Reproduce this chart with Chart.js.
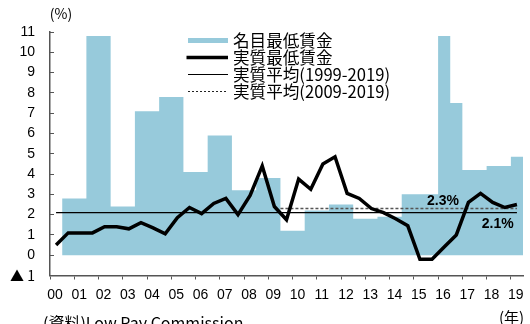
<!DOCTYPE html>
<html lang="ja">
<head>
<meta charset="utf-8">
<script src="https://cdn.jsdelivr.net/npm/chart.js@4.4.1/dist/chart.umd.min.js"></script>
<style>
  html, body { margin: 0; padding: 0; background: #fff; }
  #wrap { width: 530px; height: 324px; position: relative; }
</style>
</head>
<body>
<div id="wrap"><canvas id="c" width="530" height="324"></canvas></div>
<script>
// 横軸の年ラベル
const yearLabels = ['00','01','02','03','04','05','06','07','08','09',
                    '10','11','12','13','14','15','16','17','18','19'];

// 系列名
const seriesNames = ['名目最低賃金', '実質最低賃金', '実質平均(1999-2019)', '実質平均(2009-2019)'];

// 名目最低賃金：改定時点と前年比(%)
const nominalStart  = [2000.5, 2001.5, 2002.5, 2003.5, 2004.5, 2005.5, 2006.5, 2007.5, 2008.5, 2009.5,
                       2010.5, 2011.5, 2012.5, 2013.5, 2014.5, 2016.0, 2016.5, 2017.0, 2018.0, 2019.0];
const nominalGrowth = [2.8, 10.8, 2.4, 7.1, 7.8, 4.1, 5.9, 3.2, 3.8, 1.2,
                       2.2, 2.5, 1.8, 1.9, 3.0, 10.8, 7.5, 4.2, 4.4, 4.85];
const nominalEnd = 2019.5;

// 実質最低賃金：半期ごとの前年比(%)
const realTime = [2000.25, 2000.75, 2001.25, 2001.75, 2002.25, 2002.75, 2003.25, 2003.75, 2004.25, 2004.75,
                  2005.25, 2005.75, 2006.25, 2006.75, 2007.25, 2007.75, 2008.25, 2008.75, 2009.25, 2009.75,
                  2010.25, 2010.75, 2011.25, 2011.75, 2012.25, 2012.75, 2013.25, 2013.75, 2014.25, 2014.75,
                  2015.25, 2015.75, 2016.25, 2016.75, 2017.25, 2017.75, 2018.25, 2018.75, 2019.25];
const realGrowth = [0.5, 1.1, 1.1, 1.1, 1.4, 1.4, 1.3, 1.6, 1.35, 1.05,
                    1.85, 2.35, 2.05, 2.55, 2.8, 2.0, 2.95, 4.4, 2.4, 1.75,
                    3.75, 3.25, 4.5, 4.85, 3.05, 2.8, 2.3, 2.1, 1.8, 1.45,
                    -0.2, -0.2, 0.4, 1.0, 2.6, 3.05, 2.6, 2.35, 2.5];

// 実質平均(%)と対象期間
const avgLongValue = 2.1;
const avgLongSpan = [2000.25, 2019.25];
const avgRecentValue = 2.3;
const avgRecentSpan = [2009.5, 2019.25];

const NUM_FONT = "'Liberation Sans', Arial, sans-serif";
const JP_FONT = "'Noto Sans CJK JP', 'Noto Sans CJK SC', sans-serif";
const BAR_BLUE = '#97cadb';
const AXIS_GREY = '#555';

// 名目の段差データ（各改定から次の改定まで同じ値）
const nominalPoints = nominalStart.map((x, i) => ({ x, y: nominalGrowth[i] }));
nominalPoints.push({ x: nominalEnd, y: nominalGrowth[nominalGrowth.length - 1] });

const realPoints = realTime.map((x, i) => ({ x, y: realGrowth[i] }));

// 凡例・注記・出所などの描画
const decorPlugin = {
  id: 'decor',
  afterDatasetsDraw(chart) {
    const { ctx, chartArea, scales } = chart;
    const xs = scales.x, ys = scales.y;
    ctx.save();

    // 凡例
    const ds = chart.data.datasets;
    const sx0 = chartArea.left + 138, sx1 = chartArea.left + 178;
    const tx = chartArea.left + 183;
    [0, 1, 2, 3].forEach((di, row) => {
      const d = ds[di];
      const cy = chartArea.top + 8.5 + row * 17;
      if (di === 0) {
        ctx.fillStyle = d.backgroundColor;
        ctx.fillRect(sx0, cy - 2.5, sx1 - sx0, 5);
      } else {
        ctx.beginPath();
        ctx.strokeStyle = di === 3 ? '#222' : d.borderColor;
        ctx.lineWidth = di === 1 ? 3.5 : 1;
        ctx.setLineDash(di === 3 ? [2, 2] : []);
        ctx.moveTo(di === 1 ? sx0 - 1.5 : sx0, cy);
        ctx.lineTo(sx1, cy);
        ctx.stroke();
        ctx.setLineDash([]);
      }
      ctx.fillStyle = '#000';
      ctx.font = "16.6px " + JP_FONT;
      ctx.textAlign = 'left';
      ctx.textBaseline = 'middle';
      ctx.fillText(d.label, tx, cy);
    });

    // 平均値の注記
    ctx.font = "bold 14px " + NUM_FONT;
    ctx.textAlign = 'center';
    ctx.textBaseline = 'alphabetic';
    ctx.fillText(avgRecentValue.toFixed(1) + '%', xs.getPixelForValue(2016.2), ys.getPixelForValue(avgRecentValue) - 3.5);
    ctx.fillText(avgLongValue.toFixed(1) + '%', xs.getPixelForValue(2018.46), ys.getPixelForValue(avgLongValue) + 15);

    // 単位
    ctx.font = "14px " + JP_FONT;
    ctx.textAlign = 'center';
    ctx.textBaseline = 'middle';
    ctx.fillText('(%)', chartArea.left + 11, 14);
    ctx.font = "15px " + JP_FONT;
    ctx.fillText('(年)', chartArea.right - 11.5, 317);

    // 出所
    ctx.font = "16px " + JP_FONT;
    ctx.textAlign = 'left';
    ctx.textBaseline = 'alphabetic';
    ctx.fillText('(資料)Low Pay Commission', 43, 328.5);
    ctx.restore();
  }
};

Chart.defaults.font.family = NUM_FONT;
Chart.defaults.color = '#000';

new Chart(document.getElementById('c'), {
  type: 'line',
  data: {
    datasets: [
      {
        label: seriesNames[0],
        data: nominalPoints,
        stepped: 'before',
        fill: 'origin',
        backgroundColor: BAR_BLUE,
        borderColor: 'rgba(0,0,0,0)',
        borderWidth: 0,
        pointRadius: 0,
        order: 3
      },
      {
        label: seriesNames[1],
        data: realPoints,
        borderColor: '#000',
        borderWidth: 3.5,
        borderJoinStyle: 'miter',
        borderCapStyle: 'butt',
        pointRadius: 0,
        fill: false,
        tension: 0,
        order: 0
      },
      {
        label: seriesNames[2],
        data: avgLongSpan.map(x => ({ x, y: avgLongValue })),
        borderColor: '#000',
        borderWidth: 1.2,
        pointRadius: 0,
        fill: false,
        order: 1
      },
      {
        label: seriesNames[3],
        data: avgRecentSpan.map(x => ({ x, y: avgRecentValue })),
        borderColor: '#555',
        borderWidth: 1.5,
        borderDash: [3, 2],
        pointRadius: 0,
        fill: false,
        order: 2
      }
    ]
  },
  options: {
    responsive: false,
    animation: false,
    events: [],
    layout: { padding: { top: 32, right: 7, left: 0, bottom: 0 } },
    plugins: {
      legend: { display: false },
      tooltip: { enabled: false }
    },
    scales: {
      x: {
        type: 'linear',
        min: 2000,
        max: nominalEnd,
        afterFit: (s) => { s.height = 48.5; },
        border: { display: true, color: AXIS_GREY, width: 1.5 },
        grid: { display: true, drawOnChartArea: false, drawTicks: true, tickLength: 4, color: AXIS_GREY, lineWidth: 1 },
        ticks: {
          stepSize: 1,
          includeBounds: false,
          autoSkip: false,
          maxRotation: 0,
          padding: 7,
          labelOffset: 5,
          font: { size: 14, family: NUM_FONT },
          callback: (v) => yearLabels[Math.round(v) - 2000]
        }
      },
      y: {
        type: 'linear',
        min: -1,
        max: 11,
        afterFit: (s) => { s.width = 50; },
        border: { display: true, color: AXIS_GREY, width: 1.5 },
        grid: { display: true, drawOnChartArea: false, drawTicks: true, tickLength: -4, color: AXIS_GREY, lineWidth: 1 },
        ticks: {
          stepSize: 1,
          padding: 19,
          font: (c) => (c.tick && c.tick.value < 0)
            ? { size: 14, family: JP_FONT }
            : { size: 14, family: NUM_FONT },
          callback: (v) => v < 0 ? '▲ ' + (-v) : String(v)
        }
      }
    }
  },
  plugins: [decorPlugin]
});
</script>
</body>
</html>
